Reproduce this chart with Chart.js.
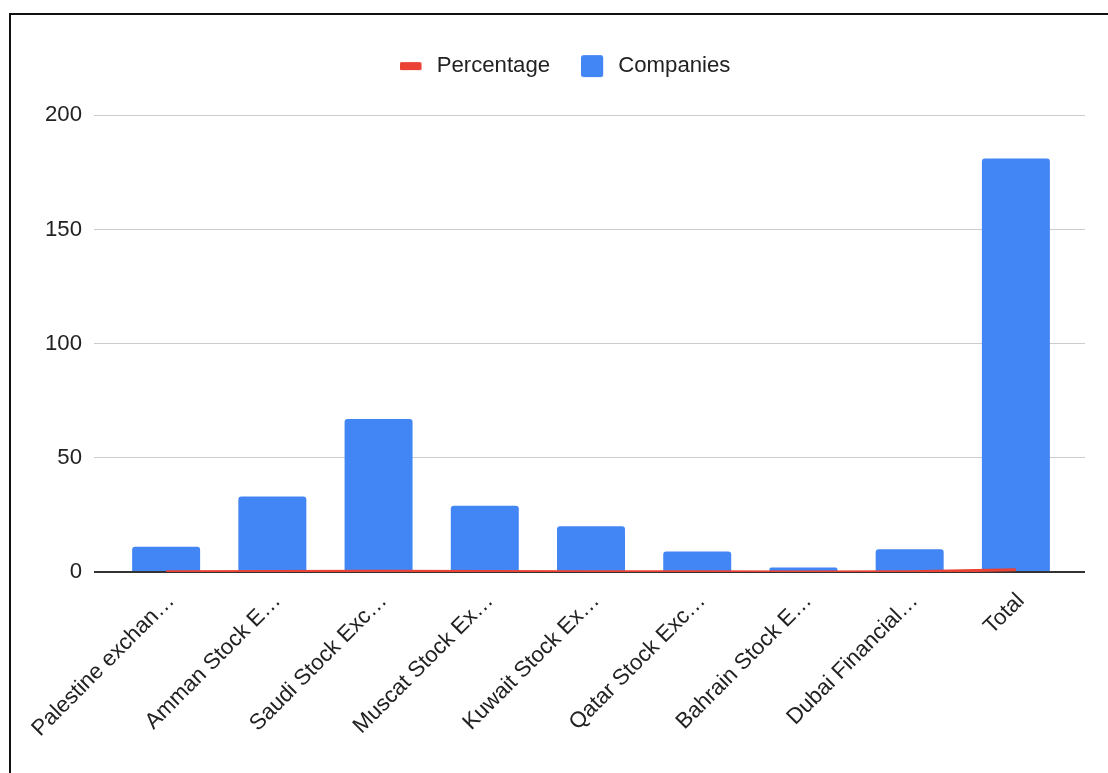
<!DOCTYPE html>
<html><head><meta charset="utf-8">
<script src="https://cdn.jsdelivr.net/npm/chart.js@4.4.0/dist/chart.umd.min.js"></script>
<style>
html,body{margin:0;padding:0;background:#fff;width:1108px;height:773px;overflow:hidden}
#wrap{position:absolute;left:0;top:0;width:1108px;height:773px}
#frame{position:absolute;left:9px;top:13px;width:1110px;height:770px;border-left:2px solid #111;border-top:2px solid #111;pointer-events:none}
</style></head><body>
<div id="wrap"><canvas id="c" width="1108" height="773"></canvas></div>
<div id="frame"></div>
<script>
const categories = ["Palestine exchan\u2026", "Amman Stock E\u2026", "Saudi Stock Exc\u2026", "Muscat Stock Ex\u2026", "Kuwait Stock Ex\u2026", "Qatar Stock Exc\u2026", "Bahrain Stock E\u2026", "Dubai Financial\u2026", "Total"];
const companies = [11, 33, 67, 29, 20, 9, 2, 10, 181];
const percentage = [0.06, 0.18, 0.37, 0.16, 0.11, 0.05, 0.01, 0.06, 1];
const yTicks = [0, 50, 100, 150, 200];

const RED = '#EA4335', BLUE = '#4285F4';
const FAMILY = '"Liberation Sans", Arial, sans-serif';
const FS = 22.2;
const gridColor = c => (c.tick && c.tick.value === 0) ? '#333333' : '#cccccc';
const gridWidth = c => (c.tick && c.tick.value === 0) ? 2 : 1;

function marker(kind) {
  const cv = document.createElement('canvas');
  cv.width = 26; cv.height = 24;
  const g = cv.getContext('2d');
  g.beginPath();
  if (kind === 'line') { g.fillStyle = RED; g.roundRect(0, 8, 22, 8, 1.5); }
  else { g.fillStyle = BLUE; g.roundRect(0, 1, 22, 22, 2.5); }
  g.fill();
  return cv;
}
const markers = { line: marker('line'), bar: marker('bar') };

new Chart(document.getElementById('c'), {
  data: {
    labels: categories,
    datasets: [
      { type: 'line', label: 'Percentage', data: percentage, borderColor: RED, backgroundColor: RED,
        borderWidth: 3, pointRadius: 0, pointHoverRadius: 0, tension: 0, order: 0 },
      { type: 'bar', label: 'Companies', data: companies, backgroundColor: BLUE,
        borderRadius: { topLeft: 3, topRight: 3, bottomLeft: 0, bottomRight: 0 }, borderSkipped: 'start',
        categoryPercentage: 0.8, barPercentage: 0.8, order: 1 }
    ]
  },
  options: {
    responsive: false,
    animation: false,
    layout: { padding: { left: 45, right: 23, top: 24, bottom: 15 } },
    plugins: {
      tooltip: { enabled: false },
      subtitle: { display: true, text: '', weight: 500, position: 'top',
                  font: { size: 1, lineHeight: 1 }, padding: { top: 0, bottom: 27 } },
      legend: {
        position: 'top',
        labels: {
          usePointStyle: true, pointStyleWidth: 26, boxWidth: 26, boxHeight: 22, padding: 31,
          color: '#222222', font: { family: FAMILY, size: FS },
          generateLabels(chart) {
            const items = Chart.defaults.plugins.legend.labels.generateLabels(chart);
            items.forEach(it => {
              const ds = chart.data.datasets[it.datasetIndex];
              it.pointStyle = ds.type === 'line' ? markers.line : markers.bar;
              it.lineWidth = 0;
            });
            return items;
          }
        }
      }
    },
    scales: {
      x: {
        offset: true,
        grid: { display: false, drawTicks: false },
        border: { display: false },
        afterFit: s => { s.paddingLeft = 0; s.paddingRight = 0; },
        ticks: { autoSkip: false, maxRotation: 45, minRotation: 45, color: '#222222', padding: 16,
                 labelOffset: 5, font: { family: FAMILY, size: FS } }
      },
      y: {
        position: 'left', min: 0, max: 200,
        afterBuildTicks: s => { s.ticks = yTicks.map(v => ({ value: v })); },
        afterFit: s => { s.width = s.width - 12; },
        ticks: { color: '#222222', padding: 12, font: { family: FAMILY, size: FS } },
        grid: { color: gridColor, lineWidth: gridWidth, tickLength: 19, drawTicks: true },
        border: { display: false }
      },
      y2: {
        position: 'right', min: 0, max: 200,
        afterBuildTicks: s => { s.ticks = yTicks.map(v => ({ value: v })); },
        ticks: { display: false },
        grid: { color: gridColor, lineWidth: gridWidth, tickLength: 16, drawTicks: true, drawOnChartArea: false },
        border: { display: false }
      }
    }
  }
});
</script>
</body></html>
